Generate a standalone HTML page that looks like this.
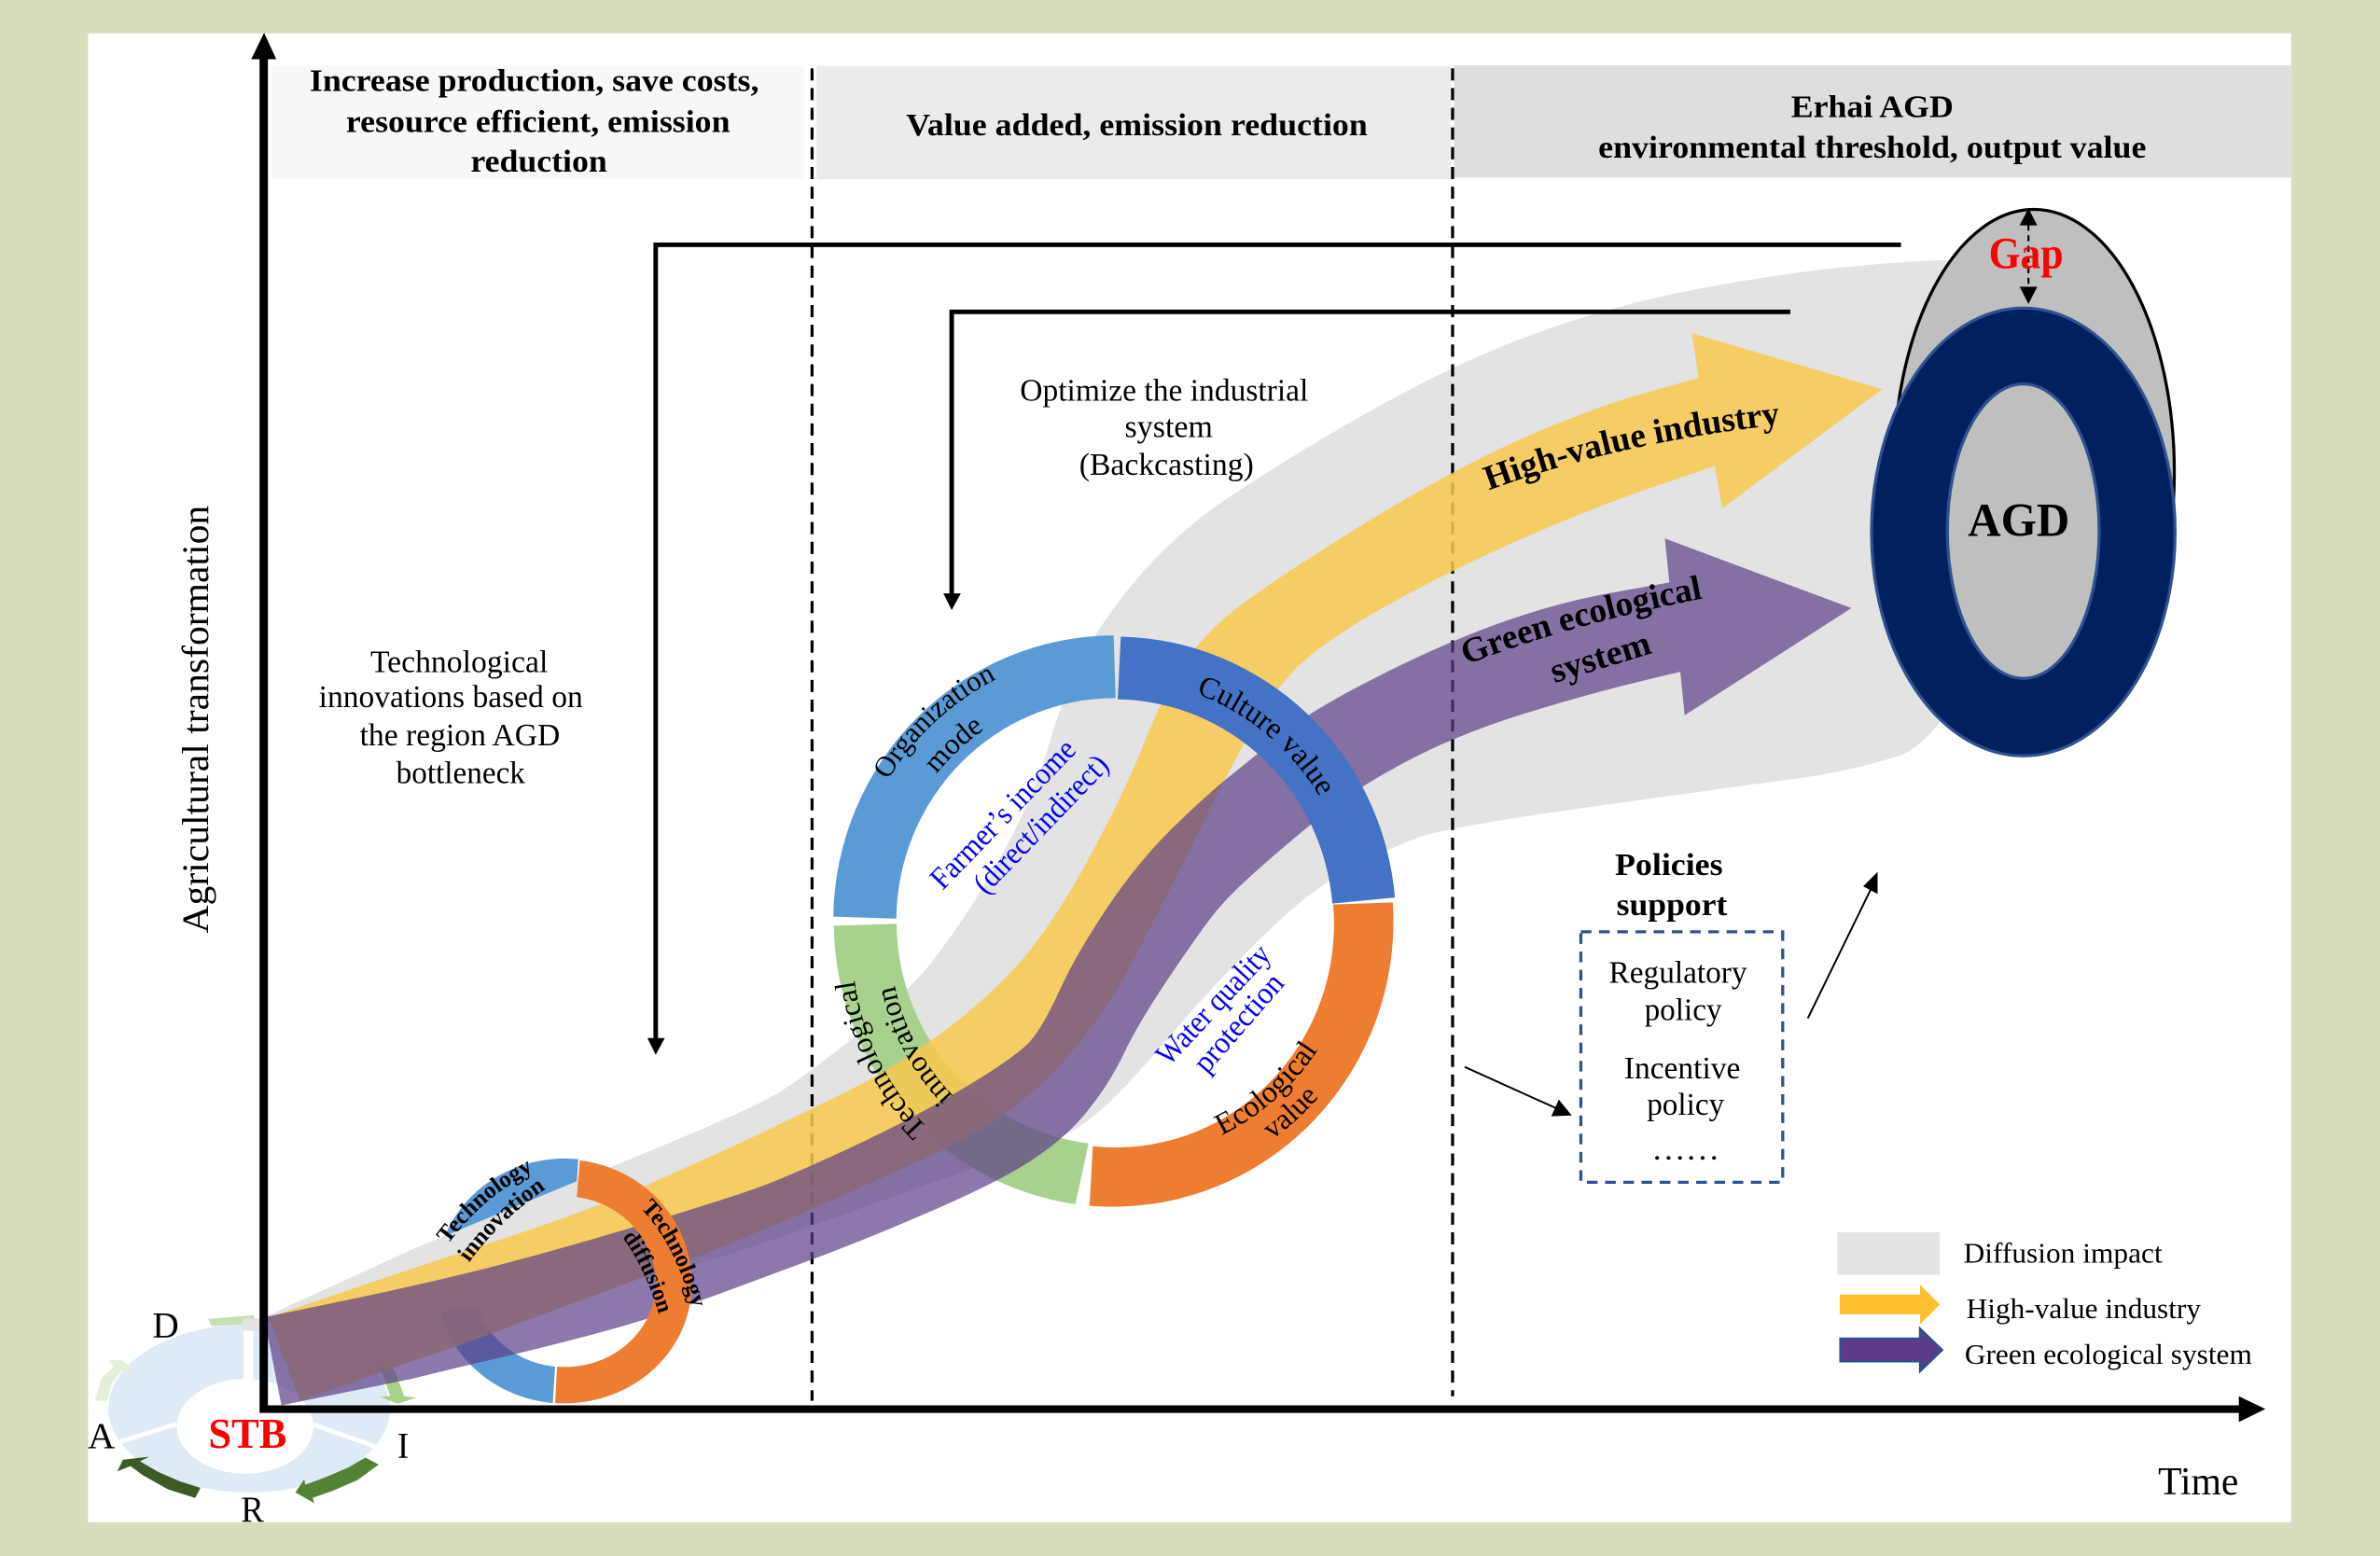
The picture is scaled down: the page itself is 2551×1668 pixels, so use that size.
<!DOCTYPE html>
<html><head><meta charset="utf-8"><style>
html,body{margin:0;padding:0;background:#d9ddbd}
svg{display:block;width:2551px;height:1668px}
text{font-family:"Liberation Serif","Noto Serif CJK SC",serif;fill:#000}
.b{font-weight:bold}
</style></head><body>
<svg viewBox="0 0 1568 1025.26" xmlns="http://www.w3.org/2000/svg">
<defs>
<path id="pOrg" d="M585 514A175 178 0 0 1 734 429"/>
<path id="pMode" d="M617 510A150 153 0 0 1 734 454"/>
<path id="pCult" d="M788 457A158 160 0 0 1 892 607"/>
<path id="pEco" d="M805 748A160 160 0 0 0 894 607"/>
<path id="pVal" d="M838 751A178 178 0 0 0 912 607"/>
<path id="pTech" d="M611 743A172 172 0 0 1 562 607"/>
<path id="pInn" d="M628 722A147 147 0 0 1 587 607"/>
<path id="sT1" d="M295 820Q318 788 356 769"/>
<path id="sT2" d="M309 832Q332 800 368 778"/>
<path id="sT3" d="M422 796Q447 822 458 870"/>
<path id="sT4" d="M410 815Q427 838 437 876"/>
<path id="pHigh" d="M981 323Q1073 289 1190 278"/>
<path id="pGreen" d="M966 438Q1043 408 1140 391"/>
</defs>
<rect width="1568" height="1026" fill="#d9ddbd"/>
<rect x="58" y="22" width="1451.5" height="981" fill="#fff"/>
<rect x="179" y="43.4" width="351" height="74.6" fill="#f7f7f7"/>
<rect x="538" y="43.4" width="418" height="74.6" fill="#ebebeb"/>
<rect x="958" y="43" width="552" height="74" fill="#dedede"/>

<!-- STB cycle -->
<ellipse cx="164.2" cy="928" rx="92.8" ry="55.3" fill="#deeaf6"/>
<ellipse cx="161.5" cy="939.8" rx="45" ry="31.2" fill="#fff"/>
<path d="M163.6 865V910" stroke="#fff" stroke-width="6.5"/>
<path d="M79 950L116 938.3M206.5 938.7L247 953" stroke="#fff" stroke-width="3"/>
<path d="M137.3 869L167 866.6L168 868.6L159.8 872.7L139.3 873.8Z" fill="#c5e0b3"/>
<path d="M242.8 896.3L251 895.3L260.2 903.5L266.3 919.9L274.1 920.9L262.2 925L250 920.3L257.1 919.9L252 905.5Z" fill="#a9d18e"/>
<path d="M240.7 960.4L249.5 965L235.6 975.2L219.2 982.3L205.9 987L207.3 990.5L194.6 983.4L200.4 974.8L201.2 978.3L215.1 973.1L229.4 967Z" fill="#548235"/>
<path d="M132.1 980.3L128.6 987L110.6 981.3L94.2 972.1L86 966L77.4 969.4L80.9 961.9L98.3 959.8L92.2 962.9L104.5 970L118.8 976.2Z" fill="#3d5b26"/>
<path d="M62.5 923L70.7 923L73.7 911.7L79.9 903.5L89.1 903.5L79.9 895.9L71.7 896.3L74.8 900.4L66.6 908.6Z" fill="#e2efd9"/>
<text x="100.4" y="881" font-size="24" textLength="17.4" lengthAdjust="spacingAndGlyphs">D</text>
<text x="57.8" y="954" font-size="24" textLength="18" lengthAdjust="spacingAndGlyphs">A</text>
<text x="261.8" y="960.4" font-size="24" textLength="7.6" lengthAdjust="spacingAndGlyphs">I</text>
<text x="158.8" y="1002.4" font-size="24" textLength="15" lengthAdjust="spacingAndGlyphs">R</text>

<!-- small ring blue under gray -->
<path d="M381 763.8A85 81 0 0 0 287 845A85 81 0 0 0 364.2 924.5L365.7 900.5A60 56 0 0 1 312 845A60 56 0 0 1 379.4 789Z" fill="#5b9bd5"/>

<!-- gray diffusion -->
<rect x="160" y="868.6" width="14" height="8.2" fill="#e3e3e3"/>
<path fill="#e3e3e3" d="M176 867L270.4 823.7L448.6 749.9L470 740.6Q491.7 731.4 507 723.4Q522.4 715.3 560 685.4Q597.9 655.4 617.8 628.7Q637.7 602 652.9 576Q668 550 677.5 528Q687 506 692.5 486Q698 466 708.4 443Q718.8 419.5 742 390Q765.4 360.7 795 338Q825 316 890 278Q955 240.7 1005.5 222Q1056 203 1108 192.5Q1160 182 1210 176.6Q1260 171.3 1300 171L1300 430Q1285 480 1254 497Q1215 510 1167.8 515L1060 530Q952.7 544.8 933.8 552Q914.8 559.4 895 569.4Q875 579.4 856.5 594.7Q838 610 814 635Q790 660 774 679Q758 698 743 714Q728 730 714.4 740Q700.8 750 680.4 756.5Q660 763 615 779Q570 795 510 816.5Q450 838 384 850.5Q318 863 247 867.5L176 872Z"/>

<!-- dashed dividers -->
<path d="M535 45V923M957 45V920" stroke="#000" stroke-width="2" stroke-dasharray="8 5" fill="none"/>

<!-- green ring segment below bands -->
<path d="M549.3 610A185 188 0 0 0 708.5 793.4L717.2 753.4A144 147 0 0 1 590.7 608.7Z" fill="#a9d18e"/>

<!-- yellow band -->
<path fill="#f9c84f" fill-opacity=".85" d="M177 868L224 852Q270.4 836 332 816Q393.3 796 436 776.5Q479.4 757 501 746.8Q522.4 736.6 556.7 719.8Q591 703 624 677.9Q657 652.7 677.5 627.4Q698 602 720 560.7Q742 519.4 753 491.5Q764 463.5 775.5 444.3Q787 425 806 408Q825 391 890 350.5Q955.3 310 1001.6 289.5Q1048 269 1083.5 259L1119 249L1114.7 219.6L1240 256.5L1134.8 334.8L1129.6 307L1088.8 321Q1048 335 1001.5 355.5Q955 376 916 397.8Q877 419.5 858.5 436Q840 452.5 822.5 484.7Q805 516.8 794 539.4Q783 562 770.7 586Q758.4 610 746 634Q733.7 658 713 684.5Q692.5 711 669 728.5Q646 746 611.6 762Q577.3 778 550 790Q522.4 802 507 808.5Q491.7 815 457 829Q423 842 374 860Q325.7 878 298 888L270 897.4L197.5 923Z"/>
<!-- purple band -->
<path fill="#5d3f88" fill-opacity=".7" d="M174 868L222 858Q270.4 848 311 838Q352.4 827.8 416 809Q479.4 789.8 501 781.9Q522.4 774 563.5 754.7Q604.7 735.3 637.6 715.4Q670.6 695.4 678.8 686Q687 676.7 698 652.7Q709 628.7 729.5 598Q750 567.4 773.4 544.7Q796.8 522 812 510Q827 498 846.5 482.3Q866 466.6 910.6 444.3Q955.3 421.9 992.5 409Q1029.8 396 1065 390L1099.8 383.8L1096.9 354.8L1219.8 400.7L1109.9 471.3L1107 442.6L1068.4 452Q1029.8 461.9 992.5 474Q955.3 486.6 927.4 501.3Q899.5 516 881 529.7Q862.7 543.4 836.6 566Q810.5 588.7 801 600.7Q791.3 612.7 770.6 643.4Q750 674 740.5 694Q731 714 717 731.3Q703.5 748.6 681.5 763.3Q659.6 778 614.3 797.7Q569 817.4 530 831.7Q491.7 846 459 858Q426 870 384 881Q342 892 306 900L270.4 908.7L185.4 926Z"/>

<!-- rings on top -->
<path d="M382 764.6A84 81 0 0 1 455.6 847A84 78 0 0 1 365.7 924.5L367 900.5A60 56 0 0 0 432.2 847A60 58 0 0 0 380 788.8Z" fill="#ed7d31"/>
<path d="M549 604A185.5 188 0 0 1 733.7 418.7L735 460A144 147 0 0 0 590.5 605.3Z" fill="#5b9bd5"/>
<path d="M738.4 419.5A185 188 0 0 1 919 591.4L877.8 595.4A144 147 0 0 0 736.4 460.8Z" fill="#4472c4"/>
<path d="M917.6 594.6A185 188 0 0 1 717.8 794.5L720 755.3A144 147 0 0 0 878.3 596Z" fill="#ed7d31"/>

<!-- axes -->
<path d="M171 928.5V39H165.5L174 21.6L182 39H176.5V926H1475V920L1492.5 928.4L1475 937V931H171Z" fill="#000"/>

<!-- backcasting lines -->
<path d="M1252.4 161.3H432V686M627 393V205.5H1179.5" stroke="#000" stroke-width="3" fill="none"/>
<path d="M426.5 684H438L432 695Z" fill="#000"/>
<path d="M621.5 391H633L627 402Z" fill="#000"/>

<!-- goal ellipses -->
<ellipse cx="1340" cy="311" rx="92.5" ry="173" fill="#bfbfbf" stroke="#000" stroke-width="2"/>
<ellipse cx="1333" cy="350.5" rx="100" ry="147.5" fill="#012060" stroke="#2f528f" stroke-width="2"/>
<ellipse cx="1333" cy="350" rx="50" ry="97" fill="#bfbfbf" stroke="#2f528f" stroke-width="2"/>
<path d="M1336.4 148V190" stroke="#000" stroke-width="1.3" stroke-dasharray="4 3"/>
<path d="M1336.4 137.2L1342.2 148.5H1330.6ZM1336.4 200.3L1342.2 188.9H1330.6Z" fill="#000"/>
<text class="b" x="1310.2" y="176.6" font-size="29.5" textLength="49.2" lengthAdjust="spacingAndGlyphs" style="fill:#f00">Gap</text>
<text class="b" x="1296.5" y="353" font-size="31" textLength="67" lengthAdjust="spacingAndGlyphs">AGD</text>

<!-- header text -->
<text class="b" x="204" y="60" font-size="21" textLength="296" lengthAdjust="spacingAndGlyphs">Increase production, save costs,</text>
<text class="b" x="228" y="87" font-size="21" textLength="253" lengthAdjust="spacingAndGlyphs">resource efficient, emission</text>
<text class="b" x="310" y="113" font-size="21" textLength="90" lengthAdjust="spacingAndGlyphs">reduction</text>
<text class="b" x="597" y="89" font-size="21" textLength="304" lengthAdjust="spacingAndGlyphs">Value added, emission reduction</text>
<text class="b" x="1180" y="77" font-size="21" textLength="107" lengthAdjust="spacingAndGlyphs">Erhai AGD</text>
<text class="b" x="1053" y="104" font-size="21" textLength="361" lengthAdjust="spacingAndGlyphs">environmental threshold, output value</text>

<!-- body text -->
<text transform="translate(137 615) rotate(-90)" font-size="25" textLength="282" lengthAdjust="spacingAndGlyphs">Agricultural transformation</text>
<text x="244" y="443" font-size="21" textLength="117" lengthAdjust="spacingAndGlyphs">Technological</text>
<text x="210" y="466" font-size="21" textLength="174" lengthAdjust="spacingAndGlyphs">innovations based on</text>
<text x="237" y="491" font-size="21" textLength="132" lengthAdjust="spacingAndGlyphs">the region AGD</text>
<text x="261" y="516" font-size="21" textLength="85" lengthAdjust="spacingAndGlyphs">bottleneck</text>
<text x="672" y="264" font-size="21" textLength="190" lengthAdjust="spacingAndGlyphs">Optimize the industrial</text>
<text x="741" y="288" font-size="21" textLength="58" lengthAdjust="spacingAndGlyphs">system</text>
<text x="711" y="313" font-size="21" textLength="115" lengthAdjust="spacingAndGlyphs">(Backcasting)</text>

<!-- ring labels -->
<text font-size="19"><textPath href="#pOrg">Organization</textPath></text>
<text font-size="19.5"><textPath href="#pMode">mode</textPath></text>
<text font-size="20"><textPath href="#pCult">Culture value</textPath></text>
<text font-size="20"><textPath href="#pEco">Ecological</textPath></text>
<text font-size="19.5"><textPath href="#pVal">value</textPath></text>
<text font-size="19.5"><textPath href="#pTech">Technological</textPath></text>
<text font-size="19.5"><textPath href="#pInn">innovation</textPath></text>
<text transform="translate(621 587) rotate(-46)" font-size="20.5" textLength="128" lengthAdjust="spacingAndGlyphs" style="fill:#00f">Farmer’s income</text>
<text transform="translate(649.5 590) rotate(-46)" font-size="20.5" textLength="118" lengthAdjust="spacingAndGlyphs" style="fill:#00f">(direct/indirect)</text>
<text transform="translate(770 703) rotate(-47)" font-size="20.5" textLength="100" lengthAdjust="spacingAndGlyphs" style="fill:#00f">Water quality</text>
<text transform="translate(795 708) rotate(-49)" font-size="20.5" textLength="79" lengthAdjust="spacingAndGlyphs" style="fill:#00f">protection</text>

<text class="b" font-size="15.5"><textPath href="#sT1">Technology</textPath></text>
<text class="b" font-size="15.5"><textPath href="#sT2">innovation</textPath></text>
<text class="b" font-size="15.5"><textPath href="#sT3">Technology</textPath></text>
<text class="b" font-size="15"><textPath href="#sT4">diffusion</textPath></text>

<text class="b" font-size="23"><textPath href="#pHigh">High-value industry</textPath></text>
<text class="b" font-size="23"><textPath href="#pGreen">Green ecological</textPath></text>
<text class="b" transform="translate(1024 450) rotate(-17)" font-size="23" textLength="68" lengthAdjust="spacingAndGlyphs">system</text>

<text class="b" x="137.3" y="954" font-size="28" textLength="51.6" lengthAdjust="spacingAndGlyphs" style="fill:#f00">STB</text>

<!-- policies -->
<text class="b" x="1064" y="576.5" font-size="21" textLength="71" lengthAdjust="spacingAndGlyphs">Policies</text>
<text class="b" x="1065" y="603" font-size="21" textLength="73" lengthAdjust="spacingAndGlyphs">support</text>
<rect x="1041.5" y="614" width="133" height="165" fill="none" stroke="#2f528f" stroke-width="2" stroke-dasharray="7 5"/>
<text x="1060" y="647.5" font-size="21" textLength="91" lengthAdjust="spacingAndGlyphs">Regulatory</text>
<text x="1083.4" y="672" font-size="21" textLength="51" lengthAdjust="spacingAndGlyphs">policy</text>
<text x="1070" y="710.5" font-size="21" textLength="76.6" lengthAdjust="spacingAndGlyphs">Incentive</text>
<text x="1085" y="734.5" font-size="21" textLength="51" lengthAdjust="spacingAndGlyphs">policy</text>
<text x="1088" y="764" font-size="21" textLength="45" lengthAdjust="spacingAndGlyphs">……</text>
<path d="M965 703L1027 731M1191 671L1233 585" stroke="#000" stroke-width="1.2"/>
<path d="M1035.5 735L1022 735.5L1027 724.5ZM1237 574.5L1237 589L1227.5 584Z" fill="#000"/>

<!-- legend -->
<rect x="1210.5" y="812" width="67.5" height="28" fill="#e4e4e4"/>
<path d="M1212 853H1265V846.5L1278 859.5L1265 872.5V866H1212Z" fill="#ffc02d"/>
<path d="M1212.5 882H1265V875.5L1279.5 889.5L1265 903.5V897H1212.5Z" fill="#5d3b8a" stroke="#2f528f" stroke-width="1.5"/>
<text x="1293.6" y="832" font-size="19" textLength="131" lengthAdjust="spacingAndGlyphs">Diffusion impact</text>
<text x="1295.5" y="868.5" font-size="19" textLength="154.5" lengthAdjust="spacingAndGlyphs">High-value industry</text>
<text x="1294.4" y="898.5" font-size="19" textLength="189.3" lengthAdjust="spacingAndGlyphs">Green ecological system</text>
<text x="1421.8" y="984.8" font-size="26" textLength="53" lengthAdjust="spacingAndGlyphs">Time</text>
</svg>
</body></html>
